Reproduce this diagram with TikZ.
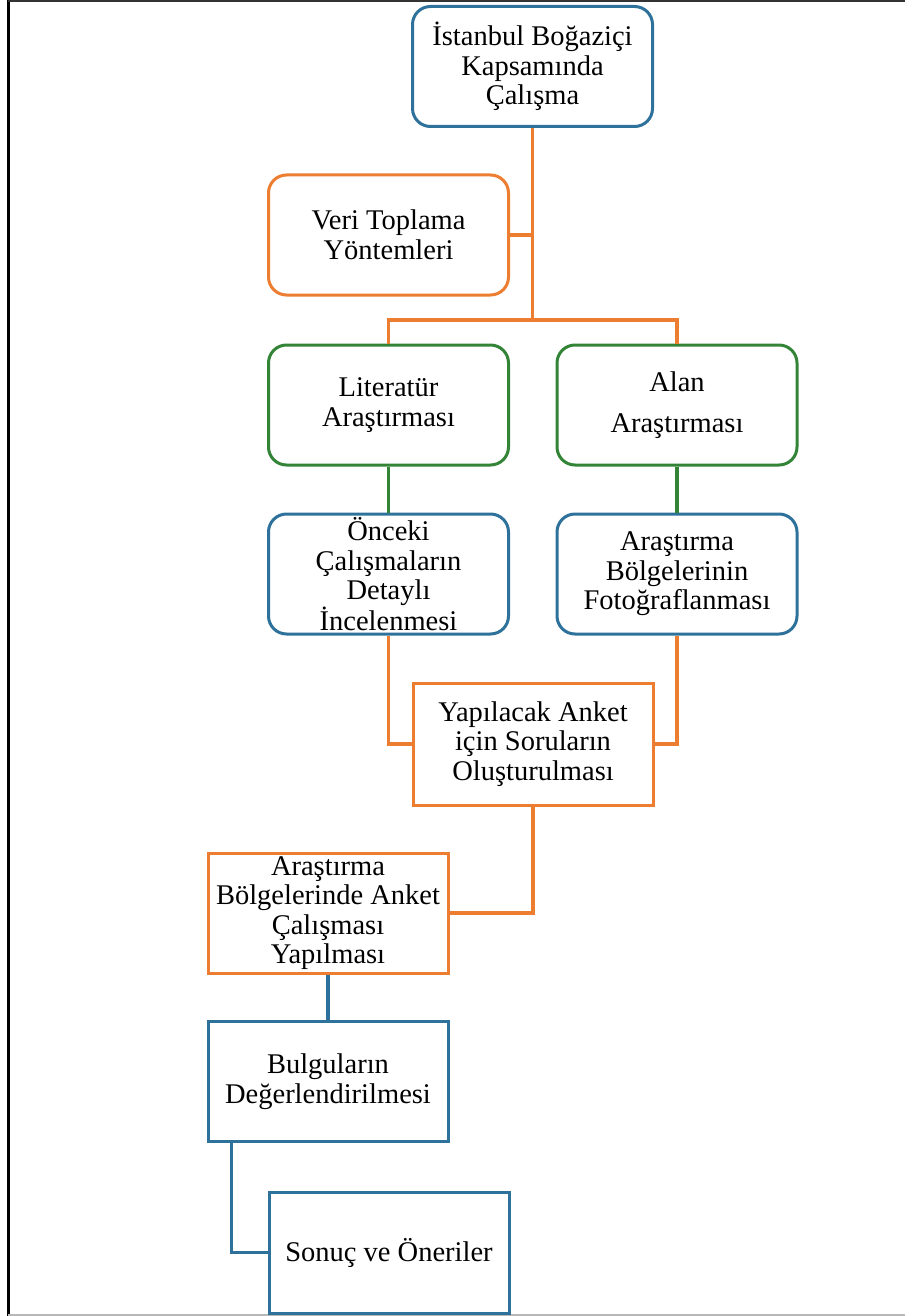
\documentclass[tikz,border=0pt]{standalone}
\usepackage{fontspec}
\setmainfont{Liberation Serif}
\definecolor{cblue}{RGB}{46,114,155}
\definecolor{corange}{RGB}{237,125,49}
\definecolor{cgreen}{RGB}{52,132,56}
\tikzset{
  boxbase/.style={line width=3pt, minimum width=240pt, minimum height=120pt, inner sep=0pt, align=center,
    font=\fontsize{28.5}{29.5}\selectfont, fill=white},
  rbox/.style={boxbase, rounded corners=18pt},
  sbox/.style={boxbase},
  link/.style={line width=3.4pt},
}
\begin{document}
\begin{tikzpicture}[x=1pt,y=-1pt]
\useasboundingbox (0,0) rectangle (905,1316);
% frame
\draw[line width=3pt, black] (8,0) -- (8,1316);
\draw[line width=2pt, black!80] (8,1) -- (905,1);
\draw[line width=2pt, black!28] (8,1315) -- (905,1315);

% nodes
\node[rbox, draw=cblue] (top) at (532.5,66.5) {İstanbul Boğaziçi\\Kapsamında\\Çalışma};
\node[rbox, draw=corange] (veri) at (388.5,235) {Veri Toplama\\Yöntemleri};
\node[rbox, draw=cgreen] (lit) at (388.5,405) {Literatür\\Araştırması};
\node[rbox, draw=cgreen] (alan) at (677,405) {Alan\\[12pt]Araştırması};
\node[rbox, draw=cblue] (onc) at (388.5,574) {Önceki\\Çalışmaların\\Detaylı\\İncelenmesi};
\node[rbox, draw=cblue] (foto) at (677,574) {Araştırma\\Bölgelerinin\\Fotoğraflanması};
\node[sbox, draw=corange, minimum height=122pt] (yap) at (533,744) {Yapılacak Anket\\için Soruların\\Oluşturulması};
\node[sbox, draw=corange] (aba) at (328,913) {Araştırma\\Bölgelerinde Anket\\Çalışması\\Yapılması};
\node[sbox, draw=cblue] (bul) at (328,1081.5) {Bulguların\\Değerlendirilmesi};
\node[sbox, draw=cblue, minimum height=121pt] (son) at (389,1252.5) {Sonuç ve Öneriler};

% connectors
\coordinate (j) at (532.5,320);
\draw[link, corange] (top.south) -- (j);
\draw[link, corange] (veri.east) -- (veri.east -| top.south);
\draw[link, corange] (lit.north) |- (j) -| (alan.north);
\draw[link, cgreen] (lit.south) -- (onc.north);
\draw[link, cgreen] (alan.south) -- (foto.north);
\draw[link, corange] (onc.south) |- (yap.west);
\draw[link, corange] (foto.south) |- (yap.east);
\draw[link, corange] (yap.south) |- (aba.east);
\draw[link, cblue] (aba.south) -- (bul.north);
\coordinate (b1) at ([xshift=25pt]bul.south west);
\draw[link, cblue] (b1) |- (son.west);
\end{tikzpicture}
\end{document}
